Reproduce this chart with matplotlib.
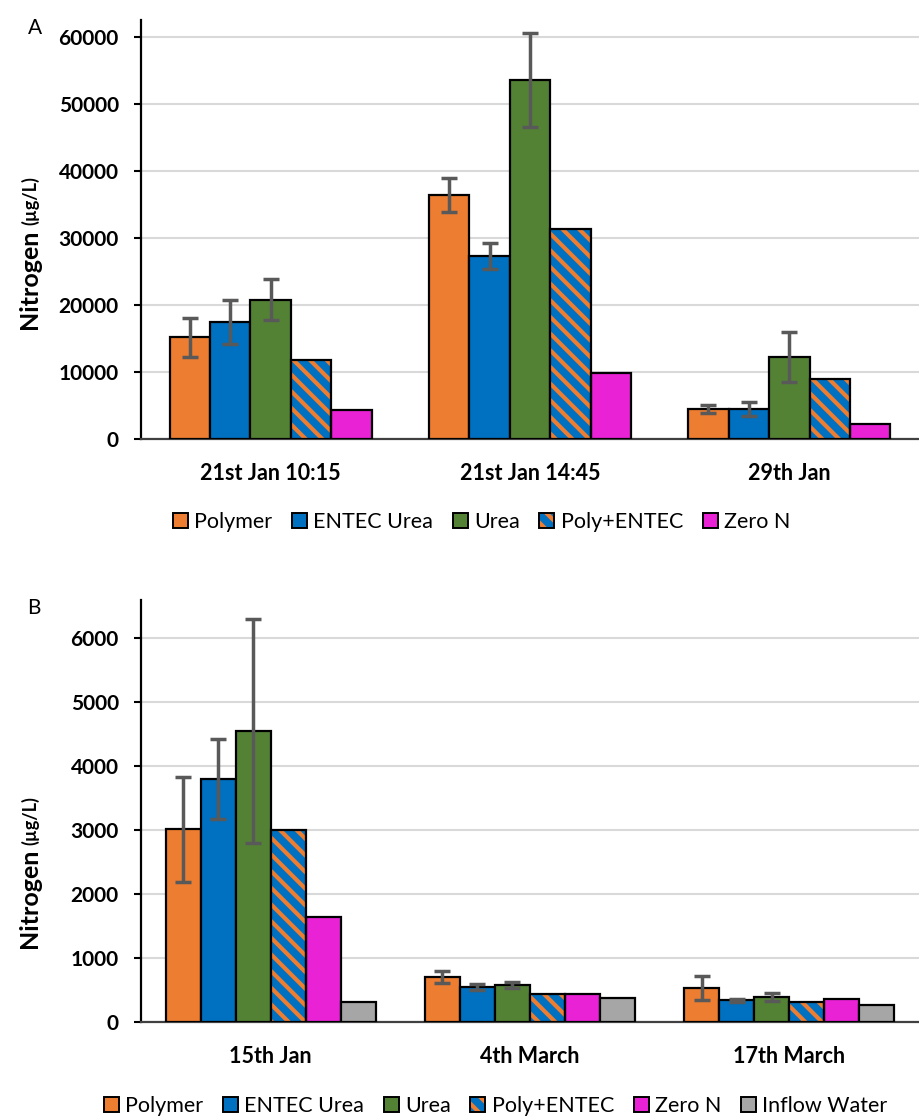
import matplotlib
matplotlib.use("Agg")
import matplotlib.pyplot as plt
import numpy as np
from matplotlib.patches import Patch

plt.rcParams['font.family'] = ['Lato', 'DejaVu Sans']
plt.rcParams['hatch.linewidth'] = 3.0

# Panel A data
cats_a = ['21st Jan 10:15', '21st Jan 14:45', '29th Jan']
polymer_a = [15200, 36400, 4500]
entec_a = [17500, 27300, 4500]
urea_a = [20800, 53600, 12200]
polyentec_a = [11800, 31400, 9000]
zeron_a = [4350, 9800, 2250]
polymer_err_a = [2900, 2500, 600]
entec_err_a = [3300, 2000, 1000]
urea_err_a = [3100, 7000, 3700]

# Panel B data
cats_b = ['15th Jan', '4th March', '17th March']
polymer_b = [3010, 706, 530]
entec_b = [3800, 552, 340]
urea_b = [4550, 575, 392]
polyentec_b = [3000, 441, 310]
zeron_b = [1640, 432, 360]
inflow_b = [320, 380, 267]
polymer_err_b = [820, 90, 190]
entec_err_b = [630, 45, 20]
urea_err_b = [1750, 45, 65]

ORANGE = '#ED7D31'
BLUE = '#0070C0'
GREEN = '#548235'
MAGENTA = '#E922D6'
GREY = '#A6A6A6'
ERRC = '#595959'


def draw_panel(ax, cats, series, errs, width, ymax, yticks, legend_x):
    x = np.arange(len(cats))
    n = len(series)
    handles = []
    for i, (name, vals, kind) in enumerate(series):
        pos = x + (i - (n - 1) / 2) * width
        if kind == 'hatch':
            # blue bar with orange diagonal stripes, black outline drawn on top
            ax.bar(pos, vals, width, color=BLUE, edgecolor=ORANGE, hatch='\\\\', lw=0, zorder=3)
            ax.bar(pos, vals, width, fill=False, edgecolor='black', lw=1.6, zorder=4)
            h = (Patch(facecolor=BLUE, edgecolor=ORANGE, hatch='\\\\', lw=0),
                 Patch(fill=False, edgecolor='black', lw=1.4))
        else:
            ax.bar(pos, vals, width, color=kind, edgecolor='black', lw=1.6, zorder=3)
            h = Patch(facecolor=kind, edgecolor='black', lw=1.4)
        handles.append(h)
        if name in errs:
            ax.errorbar(pos, vals, yerr=errs[name], fmt='none', ecolor=ERRC,
                        elinewidth=2.5, capsize=5.5, capthick=2.5, zorder=5)

    ax.set_xlim(-0.5, len(cats) - 0.5)
    ax.set_ylim(0, ymax)
    ax.set_yticks(yticks)
    ax.set_xticks(x)
    ax.set_xticklabels(cats, fontsize=15.5, fontweight='bold')
    ax.tick_params(axis='x', length=0, pad=17)
    ax.tick_params(axis='y', length=5, width=1.5, labelsize=15, pad=11)
    for lab in ax.get_yticklabels():
        lab.set_fontweight('bold')
    ax.grid(axis='y', color='#D9D9D9', lw=1.5, zorder=0)
    ax.set_axisbelow(True)
    for s in ['top', 'right']:
        ax.spines[s].set_visible(False)
    ax.spines['left'].set_linewidth(1.6)
    ax.spines['bottom'].set_linewidth(1.6)
    ax.spines['bottom'].set_color('#404040')

    ax.legend(handles, [s[0] for s in series], loc='center', bbox_to_anchor=(legend_x, -0.198),
              ncol=n, frameon=False, fontsize=15.5, handlelength=0.7, handleheight=0.7,
              handletextpad=0.3, columnspacing=0.9)


fig = plt.figure(figsize=(9.19, 11.17), dpi=100)
ax_a = fig.add_axes([0.1534, 0.607, 0.8466, 0.375])
ax_b = fig.add_axes([0.1534, 0.085, 0.8466, 0.378])

series_a = [('Polymer', polymer_a, ORANGE), ('ENTEC Urea', entec_a, BLUE),
            ('Urea', urea_a, GREEN), ('Poly+ENTEC', polyentec_a, 'hatch'),
            ('Zero N', zeron_a, MAGENTA)]
errs_a = {'Polymer': polymer_err_a, 'ENTEC Urea': entec_err_a, 'Urea': urea_err_a}
draw_panel(ax_a, cats_a, series_a, errs_a, 0.156, 62500, np.arange(0, 60001, 10000), 0.438)

series_b = [('Polymer', polymer_b, ORANGE), ('ENTEC Urea', entec_b, BLUE),
            ('Urea', urea_b, GREEN), ('Poly+ENTEC', polyentec_b, 'hatch'),
            ('Zero N', zeron_b, MAGENTA), ('Inflow Water', inflow_b, GREY)]
errs_b = {'Polymer': polymer_err_b, 'ENTEC Urea': entec_err_b, 'Urea': urea_err_b}
draw_panel(ax_b, cats_b, series_b, errs_b, 0.135, 6600, np.arange(0, 6001, 1000), 0.456)

# y labels with smaller unit text
for ax, ysplit in [(ax_a, 0.50), (ax_b, 0.41)]:
    ax.text(-0.134, ysplit, 'Nitrogen', transform=ax.transAxes, rotation=90,
            rotation_mode='anchor', ha='right', va='baseline', fontsize=18, fontweight='bold')
    ax.text(-0.134, ysplit + 0.01, '(µg/L)', transform=ax.transAxes, rotation=90,
            rotation_mode='anchor', ha='left', va='baseline', fontsize=13, fontweight='bold')

fig.text(35 / 919, 1 - 28 / 1117, 'A', fontsize=15, ha='center', va='center')
fig.text(34 / 919, 1 - 608 / 1117, 'B', fontsize=15, ha='center', va='center')

fig.savefig('out.png', dpi=100)
